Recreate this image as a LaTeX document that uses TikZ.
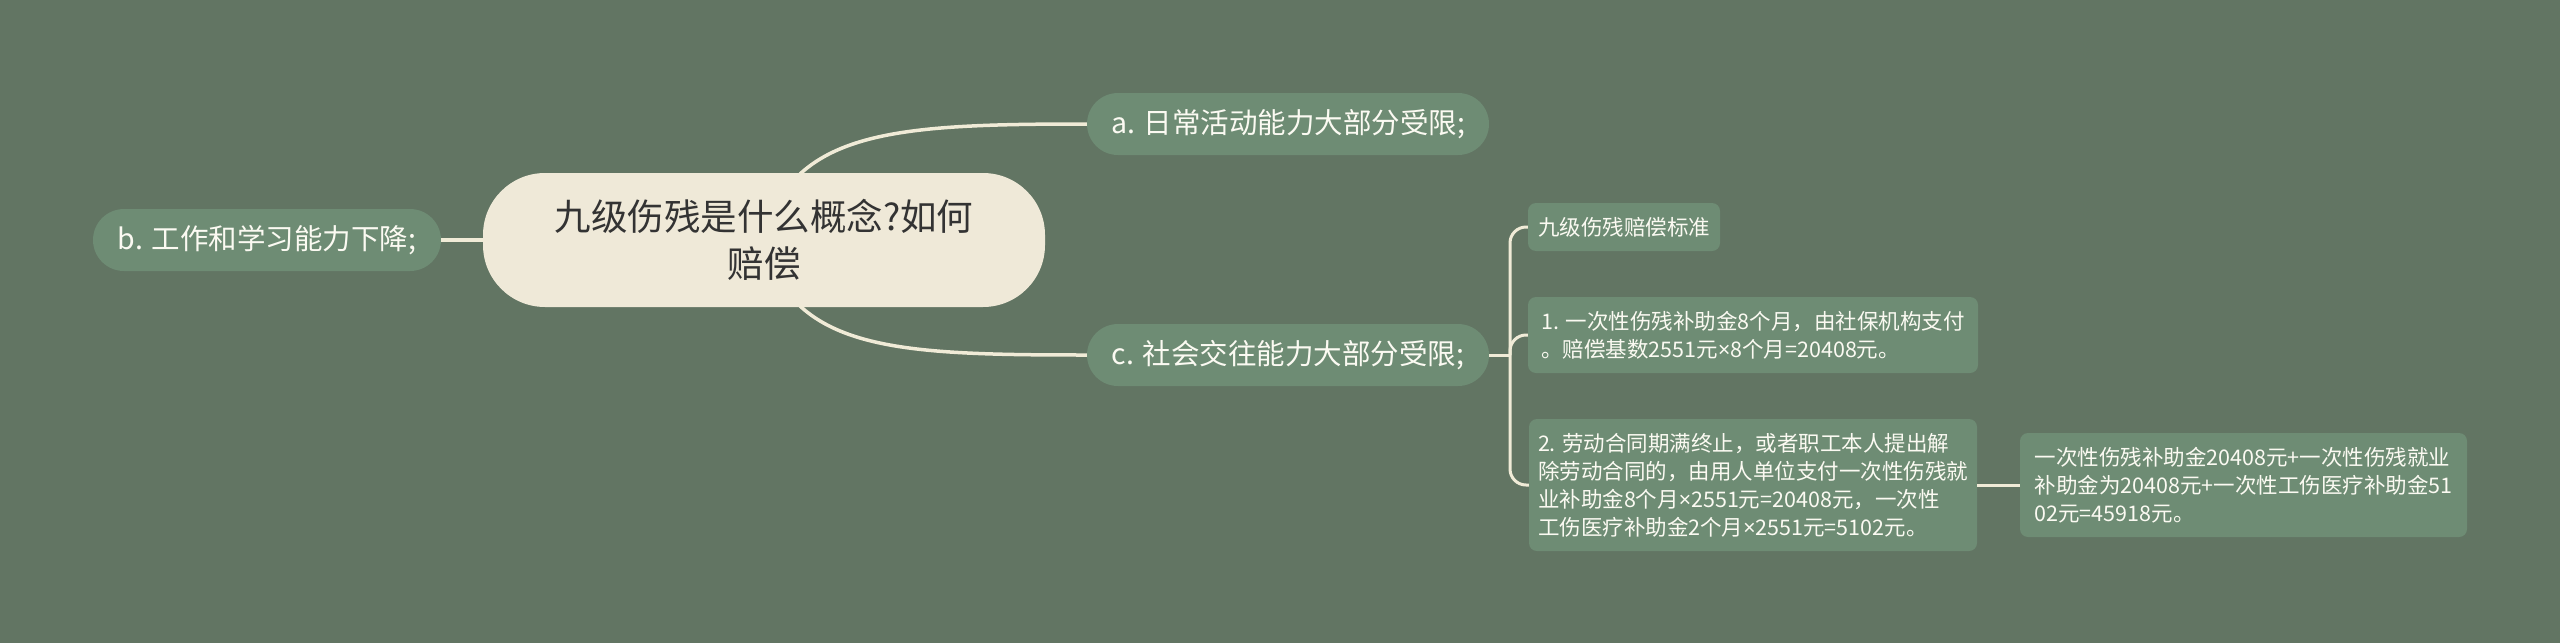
\documentclass[tikz,border=0pt]{standalone}
\usepackage{fontspec}
\setmainfont{Noto Sans CJK SC}
\newfontfamily\narrowx{Noto Sans}
\newcommand{\tms}{{\narrowx ×}}
\definecolor{bg}{HTML}{627563}
\definecolor{nodefill}{HTML}{6E8C74}
\definecolor{rootfill}{HTML}{EFE9D8}
\definecolor{linecol}{HTML}{F0EBD7}
\definecolor{roottext}{HTML}{333333}
\definecolor{nodetext}{HTML}{FBFAF2}
\tikzset{
  rootbox/.style={fill=rootfill, draw=none, rounded corners=62pt, text=roottext,
    font=\fontsize{36.5pt}{47pt}\selectfont, align=center, inner sep=0pt},
  mainbox/.style={fill=nodefill, draw=none, rounded corners=31pt, text=nodetext,
    font=\fontsize{28.5pt}{36pt}\selectfont, inner sep=0pt, minimum height=62pt},
  smallbox/.style={fill=nodefill, draw=none, rounded corners=8pt, text=nodetext,
    font=\fontsize{21.5pt}{28pt}\selectfont, align=left, inner sep=0pt},
  mainline/.style={draw=linecol, line width=3.5pt},
  subline/.style={draw=linecol, line width=3pt, rounded corners=16pt},
}
\begin{document}
\begin{tikzpicture}[x=1pt,y=-1pt]
\fill[bg] (0,0) rectangle (2560,643);
\useasboundingbox (0,0) rectangle (2560,643);

\node[rootbox, minimum width=562pt, minimum height=134pt] (root) at (764,240)
  {九级伤残是什么概念?如何\\赔偿};
\node[mainbox, minimum width=348pt] (b) at (267,240) {b. 工作和学习能力下降;};
\node[mainbox, minimum width=402pt] (a) at (1288,124) {a. 日常活动能力大部分受限;};
\node[mainbox, minimum width=402pt] (c) at (1288,355) {c. 社会交往能力大部分受限;};

\node[smallbox, minimum width=192pt, minimum height=48pt] (s0) at (1624,227) {九级伤残赔偿标准};
\node[smallbox, minimum width=450pt, minimum height=76pt] (s1) at (1753,335)
  {1. 一次性伤残补助金8个月，由社保机构支付\\。赔偿基数2551元\tms 8个月=20408元。};
\node[smallbox, minimum width=448pt, minimum height=132pt] (s2) at (1753,485)
  {2. 劳动合同期满终止，或者职工本人提出解\\除劳动合同的，由用人单位支付一次性伤残就\\业补助金8个月\tms 2551元=20408元，一次性\\工伤医疗补助金2个月\tms 2551元=5102元。};
\node[smallbox, minimum width=447pt, minimum height=104pt] (s3) at (2243.5,485)
  {一次性伤残补助金20408元+一次性伤残就业\\补助金为20408元+一次性工伤医疗补助金51\\02元=45918元。};

% connectors
\coordinate (rt) at (800,174);
\coordinate (rb) at (800,306);
\draw[mainline] (rt) .. controls (850,128) and (940,124) .. (a.west);
\draw[mainline] (rb) .. controls (850,352) and (940,355) .. (c.west);
\draw[mainline] (b.east) -- (root.west);

\coordinate (j) at (1510,355);
\draw[subline] (c.east) -- (j);
\draw[subline] (j) |- (s0.west);
\draw[subline] (j) |- (s1.west);
\draw[subline] (j) |- (s2.west);
\draw[subline] (s2.east) -- (s3.west);
\end{tikzpicture}
\end{document}
